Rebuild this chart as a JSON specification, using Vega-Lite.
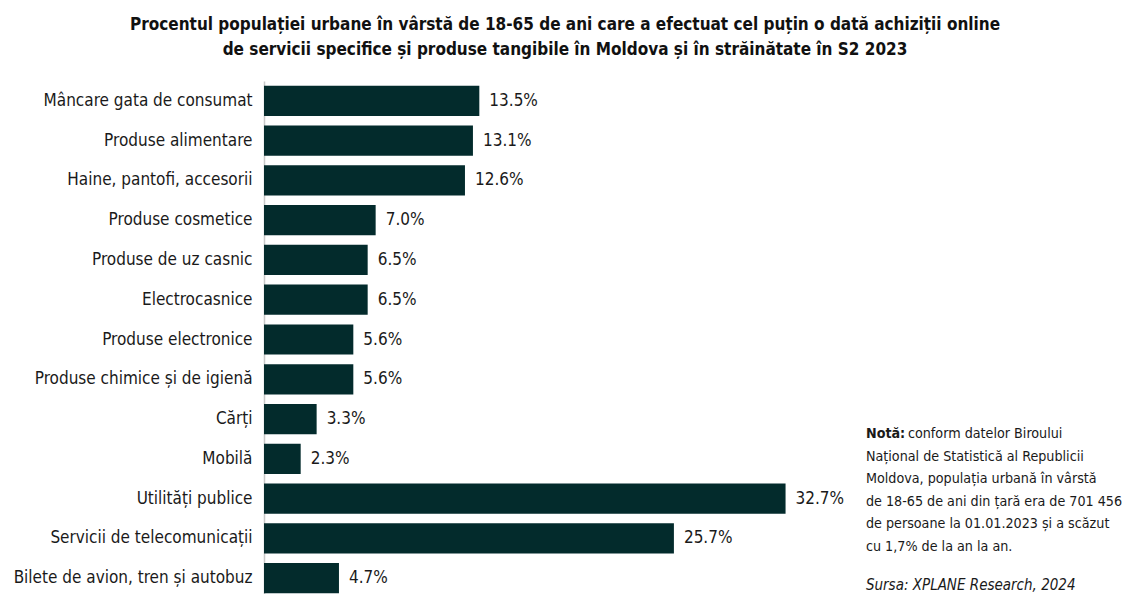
{
  "$schema": "https://vega.github.io/schema/vega-lite/v6.json",
  "autosize": "none",
  "width": 864,
  "height": 517,
  "padding": {"left": 264, "top": 81, "right": 0, "bottom": 0},
  "background": "white",
  "config": {
    "font": "DejaVu Sans Condensed",
    "view": {"stroke": null}
  },
  "title": {
    "text": ["Procentul populației urbane în vârstă de 18-65 de ani care a efectuat cel puțin o dată achiziții online", "de servicii specifice și produse tangibile în Moldova și în străinătate în S2 2023"],
    "font": "DejaVu Sans Condensed",
    "fontSize": 17,
    "fontWeight": "bold",
    "lineHeight": 25,
    "color": "#111111",
    "anchor": "middle",
    "dx": -131,
    "offset": 22
  },
  "layer": [
    {
      "data": {"values": [
        {"category": "Mâncare gata de consumat", "value": 0.135},
        {"category": "Produse alimentare", "value": 0.131},
        {"category": "Haine, pantofi, accesorii", "value": 0.126},
        {"category": "Produse cosmetice", "value": 0.070},
        {"category": "Produse de uz casnic", "value": 0.065},
        {"category": "Electrocasnice", "value": 0.065},
        {"category": "Produse electronice", "value": 0.056},
        {"category": "Produse chimice și de igienă", "value": 0.056},
        {"category": "Cărți", "value": 0.033},
        {"category": "Mobilă", "value": 0.023},
        {"category": "Utilități publice", "value": 0.327},
        {"category": "Servicii de telecomunicații", "value": 0.257},
        {"category": "Bilete de avion, tren și autobuz", "value": 0.047}
      ]},
      "encoding": {
        "y": {
          "field": "category", "type": "nominal", "sort": null, "title": null,
          "scale": {"paddingInner": 0.24, "paddingOuter": 0.12},
          "axis": {"domain": true, "domainColor": "#c8c8c8", "domainWidth": 1.5, "ticks": false, "labelPadding": 12, "labelFontSize": 17, "labelColor": "#1a1a1a", "labelFont": "DejaVu Sans Condensed", "labelLimit": 400}
        },
        "x": {
          "field": "value", "type": "quantitative", "title": null,
          "scale": {"domain": [0, 0.5417], "nice": false, "zero": true},
          "axis": null
        }
      },
      "layer": [
        {"mark": {"type": "bar", "color": "#032b2c"}},
        {
          "mark": {"type": "text", "align": "left", "baseline": "middle", "dx": 10, "fontSize": 17, "color": "#1a1a1a"},
          "encoding": {"text": {"field": "value", "type": "quantitative", "format": ".1%"}}
        }
      ]
    },
    {
      "data": {"values": [{"t": "Notă:"}]},
      "mark": {"type": "text", "align": "left", "baseline": "alphabetic", "dy": 19, "fontSize": 14.2, "fontWeight": "bold", "color": "#1a1a1a"},
      "encoding": {"x": {"datum": 0.3774, "type": "quantitative"}, "y": {"datum": "Cărți", "type": "nominal"}, "text": {"field": "t"}}
    },
    {
      "data": {"values": [{"t": "conform datelor Biroului"}]},
      "mark": {"type": "text", "align": "left", "baseline": "alphabetic", "dx": 42, "dy": 19, "fontSize": 14.2, "color": "#1a1a1a"},
      "encoding": {"x": {"datum": 0.3774, "type": "quantitative"}, "y": {"datum": "Cărți", "type": "nominal"}, "text": {"field": "t"}}
    },
    {
      "data": {"values": [{"t": ["Național de Statistică al Republicii", "Moldova, populația urbană în vârstă", "de 18-65 de ani din țară era de 701 456", "de persoane la 01.01.2023 și a scăzut", "cu 1,7% de la an la an."]}]},
      "mark": {"type": "text", "align": "left", "baseline": "alphabetic", "dy": 41.6, "fontSize": 14.2, "lineHeight": 22.6, "color": "#1a1a1a"},
      "encoding": {"x": {"datum": 0.3774, "type": "quantitative"}, "y": {"datum": "Cărți", "type": "nominal"}, "text": {"field": "t"}}
    },
    {
      "data": {"values": [{"t": "Sursa: XPLANE Research, 2024"}]},
      "mark": {"type": "text", "align": "left", "baseline": "alphabetic", "dy": 171, "fontSize": 15, "fontStyle": "italic", "color": "#1a1a1a"},
      "encoding": {"x": {"datum": 0.3774, "type": "quantitative"}, "y": {"datum": "Cărți", "type": "nominal"}, "text": {"field": "t"}}
    }
  ]
}
